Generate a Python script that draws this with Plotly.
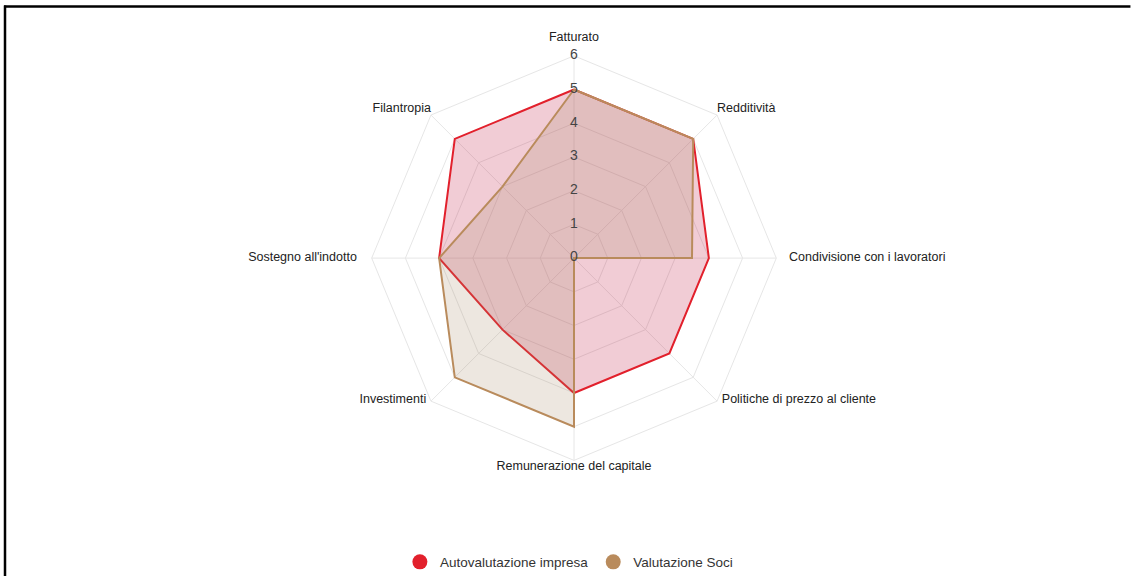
import plotly.graph_objects as go

# Dimensions evaluated (clockwise from the top)
categories = [
    "Fatturato",
    "Redditività",
    "Condivisione con i lavoratori",
    "Politiche di prezzo al cliente",
    "Remunerazione del capitale",
    "Investimenti",
    "Sostegno all'indotto",
    "Filantropia",
]

# Scores for each series
autovalutazione = [5, 5, 4, 4, 4, 3, 4, 5]
valutazione_soci = [5, 5, 3.5, 0, 5, 5, 4, 3]

# Radial scale labels
radial_ticks = [0, 1, 2, 3, 4, 5, 6]
scale_max = 6

# Placement of the category labels around the outer ring
label_radius = [6.35, 6.0, 6.38, 6.2, 6.0, 6.2, 6.44, 6.0]
label_position = [
    "top center", "top right", "middle right", "top right",
    "bottom center", "top left", "middle left", "top left",
]

RED = "#e2202c"
RED_FILL = "rgba(190, 25, 65, 0.22)"
BROWN = "#b98b5c"
BROWN_FILL = "rgba(165, 135, 100, 0.20)"
GRID = "#e6e6e6"
FONT = "Liberation Sans, Arial, sans-serif"
R_VIEW = 6.6  # radial extent of the subplot, leaves room for labels


def closed(values):
    return list(values) + [values[0]]


theta_closed = closed(categories)

fig = go.Figure()

# Spokes from the centre to the outer ring
for cat in categories:
    fig.add_trace(go.Scatterpolar(
        r=[0, scale_max],
        theta=[cat, cat],
        mode="lines",
        line=dict(color=GRID, width=1),
        showlegend=False,
        hoverinfo="skip",
    ))

fig.add_trace(go.Scatterpolar(
    r=closed(autovalutazione),
    theta=theta_closed,
    mode="lines",
    fill="toself",
    fillcolor=RED_FILL,
    line=dict(color=RED, width=2),
    name="Autovalutazione impresa",
    showlegend=False,
))

fig.add_trace(go.Scatterpolar(
    r=closed(valutazione_soci),
    theta=theta_closed,
    mode="lines",
    fill="toself",
    fillcolor=BROWN_FILL,
    line=dict(color=BROWN, width=2),
    name="Valutazione Soci",
    showlegend=False,
))

# Legend entries with round markers
for name, color in [("Autovalutazione impresa", RED), ("Valutazione Soci", BROWN)]:
    fig.add_trace(go.Scatterpolar(
        r=[None],
        theta=[None],
        mode="markers",
        marker=dict(size=15, color=color, symbol="circle"),
        name=name,
        showlegend=True,
    ))

# Category labels outside the outer ring
fig.add_trace(go.Scatterpolar(
    r=label_radius,
    theta=categories,
    mode="text",
    text=categories,
    textposition=label_position,
    textfont=dict(family=FONT, size=12.5, color="#222222"),
    cliponaxis=False,
    showlegend=False,
    hoverinfo="skip",
))

# Scale numbers along the vertical spoke; the centre label is nudged off the
# exact origin, which plotly's polygon grid treats as outside the subplot
tick_r = [max(v, 0.03) for v in radial_ticks]
fig.add_trace(go.Scatterpolar(
    r=tick_r,
    theta=[categories[0]] * len(radial_ticks),
    mode="text",
    text=[str(v) for v in radial_ticks],
    textposition="middle center",
    textfont=dict(family=FONT, size=14, color="#444444"),
    cliponaxis=False,
    showlegend=False,
    hoverinfo="skip",
))

W, H = 1131, 578
cx, cy = 574, 259
px_per_unit = 203 / scale_max
rad = R_VIEW * px_per_unit

fig.update_layout(
    width=W,
    height=H,
    margin=dict(l=0, r=0, t=0, b=0),
    paper_bgcolor="white",
    plot_bgcolor="white",
    font=dict(family=FONT, size=12.5, color="#222222"),
    polar=dict(
        domain=dict(
            x=[(cx - rad) / W, (cx + rad) / W],
            y=[1 - (cy + rad) / H, 1 - (cy - rad) / H],
        ),
        bgcolor="rgba(0,0,0,0)",
        gridshape="linear",
        radialaxis=dict(
            range=[0, R_VIEW],
            tickvals=radial_ticks[1:],
            showticklabels=False,
            ticks="",
            showline=False,
            gridcolor=GRID,
            gridwidth=1,
            angle=90,
        ),
        angularaxis=dict(
            categoryorder="array",
            categoryarray=categories,
            direction="clockwise",
            rotation=90,
            showline=False,
            ticks="",
            showticklabels=False,
            showgrid=False,
        ),
    ),
    legend=dict(
        orientation="h",
        x=0.503,
        xanchor="center",
        y=1 - 564 / H,
        yanchor="middle",
        font=dict(family=FONT, size=13.5, color="#333333"),
        itemsizing="trace",
        itemwidth=30,
    ),
    shapes=[
        dict(type="line", xref="paper", yref="paper",
             x0=4 / W, x1=0.9995, y0=1 - 6.5 / H, y1=1 - 6.5 / H,
             line=dict(color="black", width=2.5)),
        dict(type="line", xref="paper", yref="paper",
             x0=5 / W, x1=5 / W, y0=0, y1=1 - 5.5 / H,
             line=dict(color="black", width=2.5)),
    ],
)

fig.write_html("out.html")
